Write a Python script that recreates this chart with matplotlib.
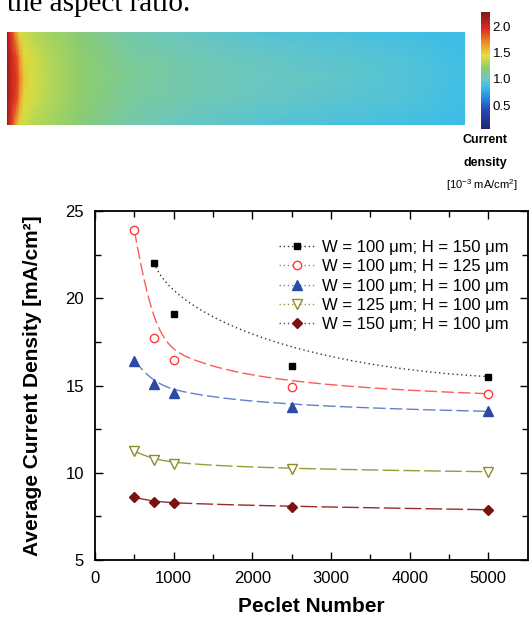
import matplotlib
matplotlib.use("Agg")
import matplotlib.pyplot as plt
from matplotlib.colors import LinearSegmentedColormap
from matplotlib.lines import Line2D
import numpy as np

plt.rcParams.update({
    "font.family": ["Liberation Sans", "DejaVu Sans"],
    "mathtext.fontset": "custom",
    "mathtext.rm": "Liberation Sans",
    "mathtext.bf": "Liberation Sans:bold",
})

# ── data: averaged current density vs Peclet number ─────────────────
peclet = [500, 750, 1000, 2500, 5000]
labels = [
    "W = 100 μm; H = 150 μm",
    "W = 100 μm; H = 125 μm",
    "W = 100 μm; H = 100 μm",
    "W = 125 μm; H = 100 μm",
    "W = 150 μm; H = 100 μm",
]
pe_w100_h150 = [750, 1000, 2500, 5000]
cd_w100_h150 = [22.02, 19.08, 16.14, 15.51]
cd_w100_h125 = [23.89, 17.70, 16.46, 14.93, 14.53]
cd_w100_h100 = [16.42, 15.09, 14.55, 13.77, 13.52]
cd_w125_h100 = [11.23, 10.75, 10.50, 10.20, 10.06]
cd_w150_h100 = [8.59, 8.34, 8.25, 8.06, 7.88]

# ── data: current density field in the channel (10^-3 mA/cm2) ───────
field_x = [0, 2, 5, 10, 13, 17, 25, 40, 73, 120, 175, 250, 320, 400, 458]
field_y = [0.0, 0.25, 0.5, 0.75, 1.0]
row_edge = [2.27, 2.00, 1.88, 1.55, 1.45, 1.38, 1.33, 1.28, 1.18, 1.05, 0.99, 0.93, 0.90, 0.87, 0.84]
row_quart = [2.27, 2.08, 1.97, 1.85, 1.62, 1.47, 1.40, 1.32, 1.21, 1.09, 1.03, 0.98, 0.95, 0.91, 0.86]
row_mid = [2.27, 2.10, 2.00, 1.92, 1.72, 1.52, 1.42, 1.34, 1.22, 1.11, 1.05, 1.00, 0.97, 0.92, 0.87]
field = np.array([row_edge, row_quart, row_mid, row_quart, row_edge])
cb_ticks = [0.5, 1.0, 1.5, 2.0]

cmap = LinearSegmentedColormap.from_list("cd", [
    (0.00, "#23236e"), (0.16, "#2846b4"), (0.27, "#288cdc"),
    (0.36, "#3cbeeb"), (0.43, "#6ec8be"), (0.52, "#8ccd6e"),
    (0.63, "#e1e13c"), (0.74, "#f08c28"), (0.86, "#dc2823"),
    (1.00, "#781e19"),
])

W, H = 531, 618
fig = plt.figure(figsize=(W / 100, H / 100), dpi=100)

fig.text(7 / W, 1 - 11 / H, "the aspect ratio.", family="Liberation Serif",
         fontsize=21, va="baseline", ha="left")

# field image
axf = fig.add_axes([7 / W, 1 - 125.5 / H, 458 / W, 94 / H])
mesh = axf.pcolormesh(field_x, field_y, field, shading="gouraud",
                      cmap=cmap, vmin=0.05, vmax=2.27)
axf.set_xlim(field_x[0], field_x[-1])
axf.set_ylim(0, 1)
axf.axis("off")

axc = fig.add_axes([481 / W, 1 - 129 / H, 9 / W, 117 / H])
cb = fig.colorbar(mesh, cax=axc, ticks=cb_ticks)
cb.outline.set_visible(False)
axc.tick_params(length=0, pad=2, labelsize=9.5)
axc.set_yticklabels([f"{t:.1f}" for t in cb_ticks])
fig.text(485 / W, 1 - 140 / H, "Current", ha="center", va="center",
         fontsize=9, fontweight="bold")
fig.text(485 / W, 1 - 163 / H, "density", ha="center", va="center",
         fontsize=9, fontweight="bold")
fig.text(482 / W, 1 - 185 / H, r"[10$^{-3}$ mA/cm$^{2}$]", ha="center",
         va="center", fontsize=8)

# line chart
ax = fig.add_axes([95 / W, 1 - 560 / H, 432.7 / W, 349 / H])


def bspline(x, y, n=300):
    # clamped cubic B-spline with the measured points as control points
    P = np.column_stack([x, y]).astype(float)
    m = len(P)
    k = min(3, m - 1)
    inner = np.linspace(0, 1, m - k + 1)
    knots = np.concatenate([np.zeros(k), inner, np.ones(k)])
    t = np.linspace(0, 1, n)
    t[-1] -= 1e-9
    B = np.zeros((n, len(knots) - 1))
    for i in range(len(knots) - 1):
        B[:, i] = (knots[i] <= t) & (t < knots[i + 1])
    for d in range(1, k + 1):
        Bn = np.zeros((n, len(knots) - 1 - d))
        for i in range(len(knots) - 1 - d):
            a = knots[i + d] - knots[i]
            b = knots[i + d + 1] - knots[i + 1]
            left = (t - knots[i]) / a * B[:, i] if a > 0 else 0
            right = (knots[i + d + 1] - t) / b * B[:, i + 1] if b > 0 else 0
            Bn[:, i] = left + right
        B = Bn
    C = B @ P
    return C[:, 0], C[:, 1]


series = [
    (pe_w100_h150, cd_w100_h150, "#000000", "#333333", "s", "#000000", 5, (0, (1, 2.2))),
    (peclet, cd_w100_h125, "#ff3a3a", "#ff5a5a", "o", "white", 6, (0, (9, 3))),
    (peclet, cd_w100_h100, "#2b4aa6", "#6580c8", "^", "#2b4aa6", 7, (0, (9, 3))),
    (peclet, cd_w125_h100, "#8c8c2a", "#9a9a3c", "v", "white", 7, (0, (12, 3))),
    (peclet, cd_w150_h100, "#7a1212", "#9a2a2a", "D", "#7a1212", 5.5, (0, (12, 3))),
]

handles = []
for (xv, yv, mc, lc, mk, mf, ms, ls), lab in zip(series, labels):
    xs, ys = bspline(xv, yv)
    ax.plot(xs, ys, color=lc, lw=1.0, linestyle=ls, zorder=2)
    ax.plot(xv, yv, linestyle="none", marker=mk, markersize=ms,
            markerfacecolor=mf, markeredgecolor=mc, markeredgewidth=1.0, zorder=3)
    handles.append(Line2D([], [], color=lc, lw=1.0, linestyle=(0, (1, 2)),
                          marker=mk, markersize=ms, markerfacecolor=mf,
                          markeredgecolor=mc, markeredgewidth=1.0))

ax.set_xlim(0, 5500)
ax.set_ylim(5, 25)
ax.set_xticks([0, 1000, 2000, 3000, 4000, 5000])
ax.set_xticks(np.arange(500, 5500, 1000), minor=True)
ax.set_yticks([5, 10, 15, 20, 25])
ax.set_yticks([7.5, 12.5, 17.5, 22.5], minor=True)
ax.tick_params(which="both", direction="in", top=True, right=True,
               labelsize=12, width=1.0)
ax.tick_params(which="major", length=6, pad=8)
ax.tick_params(which="minor", length=4)
for s in ax.spines.values():
    s.set_linewidth(1.3)

ax.set_xlabel("Peclet Number", fontsize=15, fontweight="bold")
ax.xaxis.set_label_coords(0.5, -0.105)
ax.set_ylabel("Average Current Density [mA/cm²]", fontsize=15,
              fontweight="bold")
ax.yaxis.set_label_coords(-0.122, 0.5)

ax.legend(handles, labels, loc="upper right", bbox_to_anchor=(0.956, 0.917),
          frameon=False, fontsize=12, borderpad=0, borderaxespad=0,
          handlelength=2.2, handletextpad=0.4, labelspacing=0.26)

fig.savefig("out.png", dpi=100)
